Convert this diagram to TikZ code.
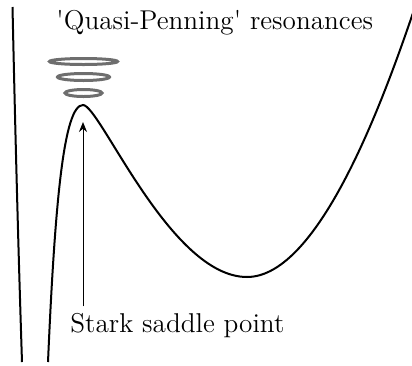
\documentclass[tikz,border=0pt]{standalone}
\usetikzlibrary{arrows.meta,positioning}
\definecolor{wellgray}{HTML}{6E6E6E}

\begin{document}
\begin{tikzpicture}[
    x=0.5pt, y=-0.5pt,
    every node/.style={font=\fontsize{13.6}{16}\selectfont},
    potential/.style={line width=1pt, black},
    resonance/.style={line width=1.5pt, wellgray},
    labeltext/.style={anchor=base west, inner sep=3pt},
    myarrow/.style={-{Stealth[length=5pt, width=4pt]}, line width=0.5pt},
]
\useasboundingbox (0,0) rectangle (412,365);

% Coulomb wall and potential curve
\draw[potential] (12.5,7) .. controls (15,120) and (18,240) .. (22,362);
\draw[potential] (48,362) .. controls (55,200) and (64,105) .. (83,105)
    .. controls (100,105) and (170,277) .. (247,277)
    .. controls (320,277) and (385,95) .. (414,10);

% Resonances above the saddle
\foreach \yy/\rx/\ry in {61.5/34/3, 77/26/3.5, 93/18.5/3.5}
  \draw[resonance] (83.5,\yy) ellipse [x radius=\rx, y radius=\ry];

% Labels
\node[labeltext] (quasi) at (50,29) {\textquotesingle Quasi-Penning\textquotesingle{} resonances};
\node[labeltext] (stark) at (64,332) {Stark saddle point};

\coordinate (saddle) at (83,122);
\draw[myarrow] (stark.north -| saddle) -- (saddle);

\end{tikzpicture}
\end{document}
